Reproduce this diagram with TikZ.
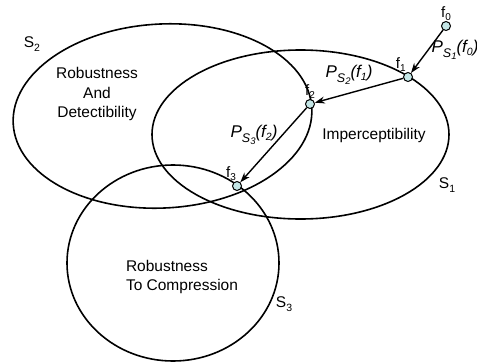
\documentclass[tikz,border=0pt]{standalone}
\usepackage{fontspec}
\setmainfont{Liberation Sans}
\usetikzlibrary{arrows.meta}
\definecolor{dotfill}{RGB}{196,230,230}
\newcommand\flab[1]{{\fontsize{15}{15}\selectfont f\raisebox{-0.4ex}{\fontsize{10}{10}\selectfont #1}}}
\newcommand\slab[1]{{\fontsize{15.5}{15.5}\selectfont S\raisebox{-0.45ex}{\fontsize{10.5}{10.5}\selectfont #1}}}
\newcommand\plab[2]{{\fontsize{17}{17}\selectfont\itshape P\raisebox{-0.5ex}{\fontsize{12.5}{12.5}\selectfont S\raisebox{-0.35ex}{\fontsize{9.5}{9.5}\selectfont #1}}(f\raisebox{-0.35ex}{\fontsize{10.5}{10.5}\selectfont #2})}}
\begin{document}
\begin{tikzpicture}[x=1pt,y=-1pt,
  ring/.style={line width=1.6pt},
  dot/.style={circle,draw,line width=1pt,fill=dotfill,inner sep=0pt,minimum size=9pt},
  arr/.style={line width=1.4pt,-{Stealth[length=10pt,width=7pt]}},
  body/.style={font=\fontsize{15.5}{19.5}\selectfont,inner sep=0pt},
  flbl/.style={inner sep=0.5pt}]
\useasboundingbox (0,0) rectangle (477,362);
% sets
\draw[ring,rotate around={3:(162.5,116)}] (162.5,116) ellipse [x radius=149.5, y radius=92];
\draw[ring] (300.5,134.5) ellipse [x radius=148.5, y radius=84.5];
\draw[ring] (173,263) ellipse [x radius=106, y radius=98];
% set labels
\node[inner sep=0pt] (lS2) at (32,44) {\slab2};
\node[inner sep=0pt] (lS1) at (447,185) {\slab1};
\node[inner sep=0pt] (lS3) at (284,304) {\slab3};
% region texts
\node[body,align=center] (rad) at (97,94) {Robustness\\And\\Detectibility};
\node[body] (imp) at (374,135) {Imperceptibility};
\node[body,align=left] (rtc) at (182,277) {Robustness\\To Compression};
% points
\node[dot,label={[flbl]90:\flab0}] (f0) at (446,26) {};
\node[dot,label={[flbl]110:\flab1}] (f1) at (408,77) {};
\node[dot,label={[flbl]90:\flab2}] (f2) at (310,104) {};
\node[dot,label={[flbl]95:\flab3}] (f3) at (237,186) {};
% projections
\draw[arr] (f0) -- (f1);
\draw[arr] (f1) -- (f2);
\draw[arr] (f2) -- (f3);
\node[inner sep=0pt] (p1) at (455,50) {\plab10};
\node[inner sep=0pt] (p2) at (349,75) {\plab21};
\node[inner sep=0pt] (p3) at (254,135) {\plab32};
\end{tikzpicture}
\end{document}
